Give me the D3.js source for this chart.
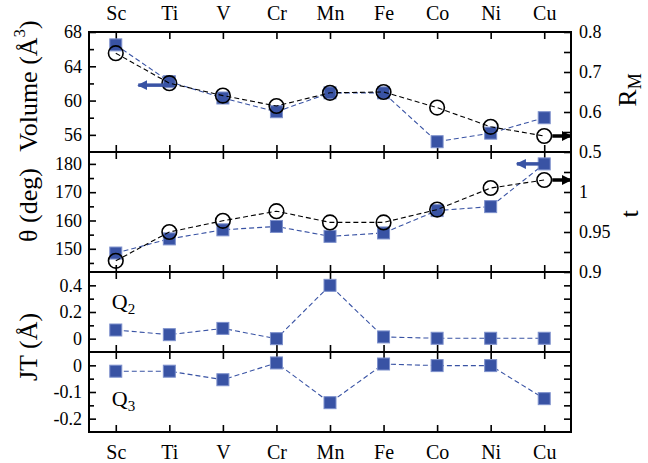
<!DOCTYPE html>
<html>
<head>
<meta charset="utf-8">
<script src="https://cdn.jsdelivr.net/npm/d3@7"></script>
<style>
  body { margin: 0; background: #fff; }
  svg text { font-family: "Liberation Serif", "Times New Roman", Tinos, "DejaVu Serif", serif !important; fill: #000; }
</style>
</head>
<body>
<script>
// values
var categories = ["Sc", "Ti", "V", "Cr", "Mn", "Fe", "Co", "Ni", "Cu"];
var volume = [66.5, 62.2, 60.3, 58.7, 60.9, 60.9, 55.2, 56.2, 58.0];
var rM = [0.747, 0.672, 0.641, 0.615, 0.648, 0.650, 0.611, 0.563, 0.540];
var theta = [148.5, 153.5, 156.7, 157.9, 154.4, 155.6, 163.5, 164.9, 180.0];
var tFactor = [0.914, 0.950, 0.964, 0.976, 0.962, 0.962, 0.978, 1.005, 1.015];
var q2 = [0.065, 0.03, 0.077, 0.0, 0.4, 0.013, 0.003, 0.003, 0.003];
var q3 = [-0.022, -0.022, -0.054, 0.009, -0.14, 0.005, -0.001, -0.001, -0.125];

var serif = '"Liberation Serif", "Times New Roman", Tinos, "DejaVu Serif", serif';
var blue = "#3953a4", blueEdge = "#7d90cc";
var W = 648, H = 463, left = 89, right = 571;

var svg = d3.select("body").append("svg").attr("width", W).attr("height", H)
  .style("font-family", serif);

var defs = svg.append("defs");
function head(id, color) {
  defs.append("marker").attr("id", id)
    .attr("markerUnits", "userSpaceOnUse")
    .attr("viewBox", "0 0 10 10").attr("refX", 9).attr("refY", 5)
    .attr("markerWidth", 10).attr("markerHeight", 11).attr("orient", "auto")
    .append("path").attr("d", "M0,0 L10,5 L0,10 Z").attr("fill", color);
}
head("hb", blue);
head("hk", "#000");

var x = d3.scaleLinear().domain([0.5, 9.5]).range([left, right]);

var panels = [
  { top: 32, h: 120, dom: [54, 68], major: [56, 60, 64, 68], minor: [58, 62, 66], fmt: d3.format("d"),
    rdom: [0.5, 0.8], rmajor: [0.5, 0.6, 0.7, 0.8], rminor: [0.55, 0.65, 0.75], rfmt: d3.format(".1f") },
  { top: 152, h: 120, dom: [141.8, 184.2], major: [150, 160, 170, 180], minor: [145, 155, 165, 175], fmt: d3.format("d"),
    rdom: [0.9, 1.05], rmajor: [0.9, 0.95, 1], rminor: [0.925, 0.975, 1.025], rfmt: function (d) { return d === 1 ? "1" : d3.format(".2~f")(d); } },
  { top: 272, h: 80, dom: [-0.1, 0.5], major: [0, 0.2, 0.4], minor: [0.1, 0.3], fmt: function (d) { return d === 0 ? "0" : d3.format(".1f")(d); } },
  { top: 352, h: 80, dom: [-0.25, 0.05], major: [-0.2, -0.1, 0], minor: [-0.15, -0.05], fmt: function (d) { return d === 0 ? "0" : d3.format(".1f")(d).replace("−", "-"); } }
];

panels.forEach(function (p) {
  p.y = d3.scaleLinear().domain(p.dom).range([p.top + p.h, p.top]);
  if (p.rdom) p.yr = d3.scaleLinear().domain(p.rdom).range([p.top + p.h, p.top]);
});

function styleAxis(g) {
  g.attr("font-family", null);
  g.select(".domain").remove();
  g.selectAll("line").attr("stroke", "#000").attr("stroke-width", 1.6);
  g.selectAll("text").attr("font-size", 18).style("font-family", serif);
}

var idx = d3.range(1, 10);

panels.forEach(function (p, i) {
  // left axis
  svg.append("g").attr("transform", "translate(" + left + ",0)")
    .call(d3.axisLeft(p.y).tickValues(p.major).tickFormat(p.fmt).tickSize(-7).tickPadding(7)).call(styleAxis);
  svg.append("g").attr("transform", "translate(" + left + ",0)")
    .call(d3.axisLeft(p.y).tickValues(p.minor).tickFormat("").tickSize(-5)).call(styleAxis);
  // right axis
  if (p.yr) {
    svg.append("g").attr("transform", "translate(" + right + ",0)")
      .call(d3.axisRight(p.yr).tickValues(p.rmajor).tickFormat(p.rfmt).tickSize(-7).tickPadding(8)).call(styleAxis);
    svg.append("g").attr("transform", "translate(" + right + ",0)")
      .call(d3.axisRight(p.yr).tickValues(p.rminor).tickFormat("").tickSize(-7)).call(styleAxis);
  } else {
    svg.append("g").attr("transform", "translate(" + right + ",0)")
      .call(d3.axisRight(p.y).tickValues(p.major.concat(p.minor)).tickFormat("").tickSize(-7)).call(styleAxis);
  }
  // x ticks top and bottom of each panel
  svg.append("g").attr("transform", "translate(0," + p.top + ")")
    .call(d3.axisTop(x).tickValues(idx).tickSize(-7).tickPadding(12)
      .tickFormat(i === 0 ? function (d) { return categories[d - 1]; } : "")).call(styleAxis);
  svg.append("g").attr("transform", "translate(0," + (p.top + p.h) + ")")
    .call(d3.axisBottom(x).tickValues(idx).tickSize(-7).tickPadding(13)
      .tickFormat(i === 3 ? function (d) { return categories[d - 1]; } : "")).call(styleAxis);
  // frame
  svg.append("rect").attr("x", left).attr("y", p.top).attr("width", right - left).attr("height", p.h)
    .attr("fill", "none").attr("stroke", "#000").attr("stroke-width", 2);
});

svg.selectAll("g text").filter(function () { return categories.indexOf(this.textContent) >= 0; })
  .attr("font-size", 20);

function series(p, scale, vals, color, dash) {
  var line = d3.line().x(function (d, i) { return x(i + 1); }).y(function (d) { return scale(d); });
  svg.append("path").datum(vals).attr("d", line).attr("fill", "none")
    .attr("stroke", color).attr("stroke-width", 1.1).attr("stroke-dasharray", dash);
}
function squares(scale, vals) {
  svg.append("g").selectAll("rect").data(vals).enter().append("rect")
    .attr("x", function (d, i) { return x(i + 1) - 6; })
    .attr("y", function (d) { return scale(d) - 6; })
    .attr("width", 12).attr("height", 12)
    .attr("fill", blue).attr("stroke", blueEdge).attr("stroke-width", 1);
}
function circles(scale, vals) {
  svg.append("g").selectAll("circle").data(vals).enter().append("circle")
    .attr("cx", function (d, i) { return x(i + 1); })
    .attr("cy", function (d) { return scale(d); })
    .attr("r", 7.3).attr("fill", "none").attr("stroke", "#000").attr("stroke-width", 1.6);
}

// panel 1: volume (left) and R_M (right)
series(panels[0], panels[0].y, volume, blue, "5,3");
squares(panels[0].y, volume);
series(panels[0], panels[0].yr, rM, "#000", "5,3");
circles(panels[0].yr, rM);

// panel 2: theta (left) and t (right)
series(panels[1], panels[1].y, theta, blue, "5,3");
squares(panels[1].y, theta);
series(panels[1], panels[1].yr, tFactor, "#000", "5,3");
circles(panels[1].yr, tFactor);

// panels 3, 4: JT distortions
series(panels[2], panels[2].y, q2, blue, "5,3");
squares(panels[2].y, q2);
series(panels[3], panels[3].y, q3, blue, "5,3");
squares(panels[3].y, q3);

// arrows telling which axis a series belongs to
function arrow(x1, x2, yv, color, id) {
  svg.append("line").attr("x1", x(x1)).attr("x2", x(x2)).attr("y1", yv).attr("y2", yv)
    .attr("stroke", color).attr("stroke-width", 3.5).attr("marker-end", "url(#" + id + ")");
}
arrow(1.96, 1.42, panels[0].y(61.8), blue, "hb");
arrow(8.92, 8.49, panels[1].y(180), blue, "hb");
arrow(9.15, 9.5, panels[0].yr(rM[8]), "#000", "hk");
arrow(9.15, 9.5, panels[1].yr(tFactor[8]), "#000", "hk");

// axis titles
function ylabel(xp, yp, size) {
  return svg.append("text").attr("transform", "translate(" + xp + "," + yp + ") rotate(-90)")
    .attr("text-anchor", "middle").attr("font-size", size);
}
var vl = ylabel(37, 86, 26);
vl.append("tspan").text("Volume (Å");
vl.append("tspan").attr("font-size", 17).attr("dy", -12).text("3");
vl.append("tspan").attr("dy", 12).text(")");
ylabel(37, 205, 26).text("θ (deg)");
ylabel(37, 347, 26).text("JT (Å)");
var rl = ylabel(636, 90, 26);
rl.append("tspan").text("R");
rl.append("tspan").attr("font-size", 18).attr("dy", 5).text("M");
ylabel(638, 214, 26).text("t");

function qlabel(xp, yp, sub) {
  var t = svg.append("text").attr("x", xp).attr("y", yp).attr("font-size", 22);
  t.append("tspan").text("Q");
  t.append("tspan").attr("font-size", 15).attr("dy", 5).text(sub);
}
qlabel(x(1) - 4, 309, "2");
qlabel(x(1) - 4, 406, "3");
</script>
</body>
</html>
